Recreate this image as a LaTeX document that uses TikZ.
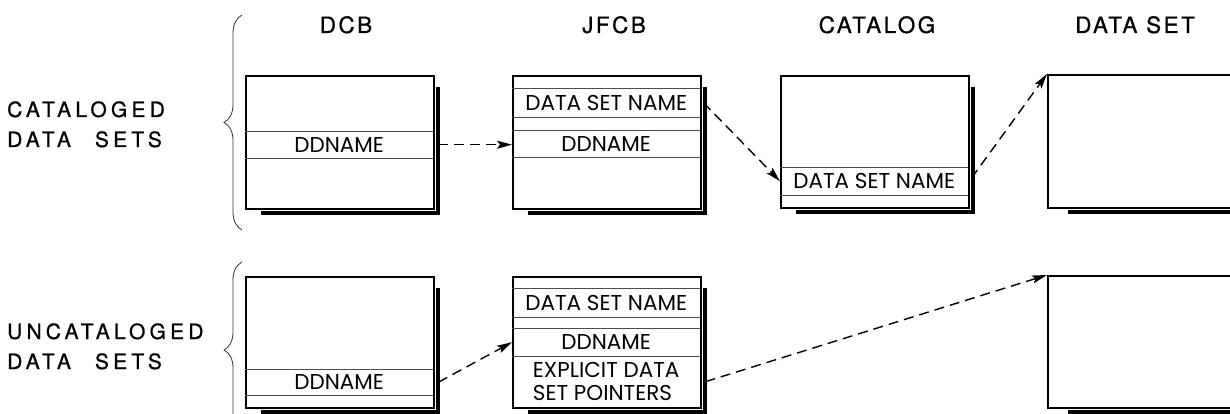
\documentclass[tikz,border=0pt]{standalone}
\usepackage{fontspec}
\setmainfont{Poppins}
\newfontfamily\headfont[LetterSpace=11,FakeBold=0.8]{TeX Gyre Heros}
\newfontfamily\sidefont[LetterSpace=20,FakeBold=0.8]{TeX Gyre Heros}
\usetikzlibrary{arrows.meta,decorations.pathreplacing}
\newcommand\dropshadow[1]{%
  \draw[shadowline] ([xshift=16pt,yshift=-2.5pt]#1.south west) -- ([xshift=2.5pt,yshift=-2.5pt]#1.south east) -- ([xshift=2.5pt,yshift=-12pt]#1.north east);}
\begin{document}
\begin{tikzpicture}[x=1pt,y=-1pt,
  box/.style={draw, line width=2.1pt, anchor=north west, inner sep=0, minimum width=188pt},
  row/.style={anchor=north west, inner sep=0, minimum width=188pt, font=\fontsize{21.5}{23}\selectfont},
  rowline/.style={line width=0.7pt, black!70},
  shadowline/.style={line width=4pt, line cap=butt, line join=miter},
  head/.style={anchor=base, inner sep=0, font=\headfont\fontsize{22.5}{26}\selectfont},
  side/.style={anchor=base west, inner sep=0, align=left, font=\sidefont\fontsize{21}{30}\selectfont},
  bracestyle/.style={decorate, decoration={brace, amplitude=18pt}, line width=0.8pt, black!80},
  darrow/.style={line width=1.4pt, dash pattern=on 10pt off 6pt, -{Stealth[length=15pt,width=8pt,inset=3pt]}}
]
\useasboundingbox (0,0) rectangle (1230,414);
\clip (0,0) rectangle (1230,414);

% headers
\node[head] (hdcb) at (346,33) {DCB};
\node[head] (hjfcb) at (614,33) {JFCB};
\node[head] (hcat) at (877,33) {CATALOG};
\node[head] (hds) at (1135,33) {DATA SET};

% side labels (anchor = baseline of the last line)
\node[side] (lcat) at (7,147) {CATALOGED\\DATA\hspace{24pt}SETS};
\node[side] (lunc) at (7,369) {UNCATALOGED\\DATA\hspace{24pt}SETS};

% braces
\draw[bracestyle] (242,230) -- (242,15);
\draw[bracestyle] (242,438) -- (242,262);

% ---------- top row ----------
\node[box, minimum height=133pt] (dcbOne) at (245,75) {};
\dropshadow{dcbOne}
\node[row, minimum height=27pt] (dcbOneDD) at (245,131) {DDNAME};
\draw[rowline] (dcbOneDD.north west) -- (dcbOneDD.north east) (dcbOneDD.south west) -- (dcbOneDD.south east);

\node[box, minimum height=133pt] (jfcbOne) at (512,75) {};
\dropshadow{jfcbOne}
\node[row, minimum height=29pt] (jfcbOneDSN) at (512,88) {DATA SET NAME};
\node[row, minimum height=27pt] (jfcbOneDD) at (512,130) {DDNAME};
\draw[rowline] (jfcbOneDSN.north west) -- (jfcbOneDSN.north east) (jfcbOneDSN.south west) -- (jfcbOneDSN.south east)
  (jfcbOneDD.north west) -- (jfcbOneDD.north east) (jfcbOneDD.south west) -- (jfcbOneDD.south east);

\node[box, minimum height=132pt] (cat) at (780,75) {};
\dropshadow{cat}
\node[row, minimum height=28pt] (catDSN) at (780,167) {DATA SET NAME};
\draw[rowline] (catDSN.north west) -- (catDSN.north east) (catDSN.south west) -- (catDSN.south east);

\node[box, minimum height=133pt, minimum width=200pt] (dsOne) at (1047,74) {};
\draw[shadowline] ([xshift=21pt,yshift=-2.5pt]dsOne.south west) -- ([yshift=-2.5pt]dsOne.south east);

% ---------- bottom row ----------
\node[box, minimum height=131pt] (dcbTwo) at (245,276) {};
\dropshadow{dcbTwo}
\node[row, minimum height=26pt] (dcbTwoDD) at (245,369) {DDNAME};
\draw[rowline] (dcbTwoDD.north west) -- (dcbTwoDD.north east) (dcbTwoDD.south west) -- (dcbTwoDD.south east);

\node[box, minimum height=131pt] (jfcbTwo) at (512,276) {};
\dropshadow{jfcbTwo}
\node[row, minimum height=29pt] (jfcbTwoDSN) at (512,288) {DATA SET NAME};
\node[row, minimum height=28pt] (jfcbTwoDD) at (512,328) {DDNAME};
\node[row, minimum height=51pt, align=left] (jfcbTwoEX) at (512,356) {EXPLICIT DATA\\SET POINTERS};
\draw[rowline] (jfcbTwoDSN.north west) -- (jfcbTwoDSN.north east) (jfcbTwoDSN.south west) -- (jfcbTwoDSN.south east)
  (jfcbTwoDD.north west) -- (jfcbTwoDD.north east) (jfcbTwoDD.south west) -- (jfcbTwoDD.south east);

\node[box, minimum height=132pt, minimum width=200pt] (dsTwo) at (1047,275) {};
\draw[shadowline] ([xshift=21pt,yshift=-2.5pt]dsTwo.south west) -- ([yshift=-2.5pt]dsTwo.south east);

% ---------- connectors ----------
\draw[darrow] ([xshift=5pt]dcbOneDD.east) -- (jfcbOne.west |- dcbOneDD.east);
\draw[darrow] ([xshift=3pt]jfcbOneDSN.east) -- (catDSN.west);
\draw[darrow] ([xshift=3pt,yshift=3pt]catDSN.east) -- (dsOne.north west);
\draw[darrow] ([xshift=5pt]dcbTwoDD.east) -- (jfcbTwoDD.west);
\draw[darrow] ([xshift=5pt]jfcbTwoEX.east) -- (dsTwo.north west);
\end{tikzpicture}
\end{document}
